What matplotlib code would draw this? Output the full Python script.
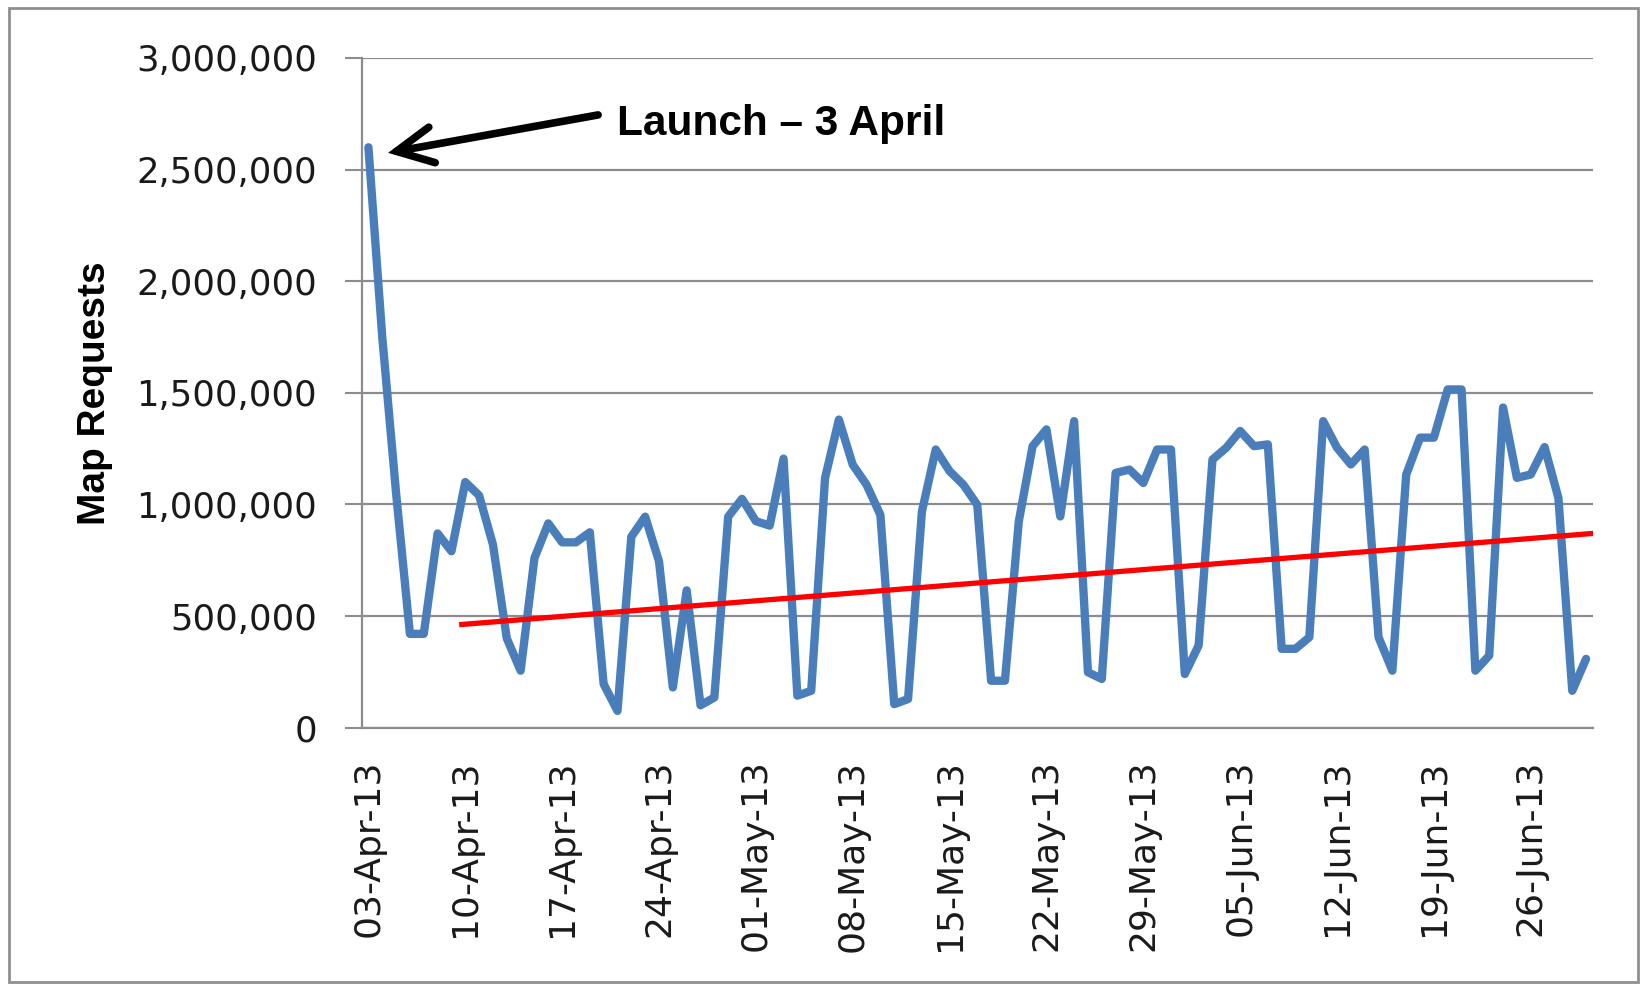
import matplotlib
matplotlib.use("Agg")
import matplotlib.pyplot as plt
from matplotlib.patches import Rectangle
from matplotlib.ticker import FuncFormatter
import numpy as np
import pandas as pd

# ---- data ----
start_date = "2013-04-03"
map_requests = [
    2600000, 1750000, 1050000, 420000, 420000, 870000, 790000,
    1100000, 1040000, 820000, 400000, 255000, 760000, 915000,
    830000, 830000, 875000, 195000, 75000, 855000, 945000,
    745000, 180000, 615000, 100000, 135000, 945000, 1025000,
    925000, 905000, 1205000, 143000, 165000, 1118000, 1380000,
    1178000, 1088000, 953000, 105000, 128000, 968000, 1246000,
    1149000, 1088000, 998000, 210000, 210000, 923000, 1261000,
    1336000, 946000, 1373000, 248000, 218000, 1141000, 1156000,
    1096000, 1246000, 1246000, 240000, 368000, 1201000, 1254000,
    1329000, 1261000, 1269000, 353000, 353000, 405000, 1373000,
    1254000, 1179000, 1246000, 405000, 255000, 1133000, 1299000,
    1299000, 1515000, 1515000, 255000, 323000, 1434000, 1119000,
    1134000, 1257000, 1029000, 165000, 308000,
]
tick_labels = ["03-Apr-13", "10-Apr-13", "17-Apr-13", "24-Apr-13", "01-May-13",
               "08-May-13", "15-May-13", "22-May-13", "29-May-13", "05-Jun-13",
               "12-Jun-13", "19-Jun-13", "26-Jun-13"]
trend_days = [6.75, 88.5]          # day index (0 = 03-Apr-13)
trend_values = [462000, 870000]
y_ticks = [0, 500000, 1000000, 1500000, 2000000, 2500000, 3000000]
annotation_text = "Launch \u2013 3 April"

dates = pd.date_range(start_date, periods=len(map_requests), freq="D")
x = np.arange(len(dates))
tick_pos = [int((pd.to_datetime(t, format="%d-%b-%y") - dates[0]).days) for t in tick_labels]

W, H = 1643, 985
fig = plt.figure(figsize=(W / 100, H / 100), dpi=100)
ax = fig.add_axes([361.5 / W, 1 - 727.6 / H, (1593 - 361.5) / W, (727.6 - 58) / H])

grid_col = "#8c8c8c"
ax.plot(x, map_requests, color="#4a7ebb", lw=6.0, solid_joinstyle="round",
        solid_capstyle="round", zorder=3)
ax.plot(trend_days, trend_values, color="#ff0000", lw=3.8, zorder=4)

ax.set_xlim(-0.5, len(x) - 0.5)
ax.set_ylim(y_ticks[0], y_ticks[-1])
ax.set_yticks(y_ticks)
ax.yaxis.set_major_formatter(FuncFormatter(lambda v, p: f"{int(v):,}"))
ax.set_xticks(tick_pos)
ax.set_xticklabels(tick_labels, rotation=90, fontsize=26, color="#1a1a1a",
                   family="DejaVu Sans")
for lab in ax.get_yticklabels():
    lab.set_fontsize(25.5)
    lab.set_color("#1a1a1a")
ax.tick_params(axis="x", length=0, pad=23)
ax.tick_params(axis="y", length=12, width=1.5, color=grid_col, pad=20)

ax.grid(axis="y", color=grid_col, lw=1.6)
ax.set_axisbelow(True)
for s in ["top", "right"]:
    ax.spines[s].set_visible(False)
for s in ["left", "bottom"]:
    ax.spines[s].set_color(grid_col)
    ax.spines[s].set_linewidth(1.6)

ax.set_ylabel("Map Requests", fontsize=28, fontweight="bold",
              family="Liberation Sans", color="black")
ax.yaxis.set_label_coords((113 - 361.5) / (1593 - 361.5), 0.5)

# annotation
ax.text(18.0, 2.655e6, annotation_text, fontsize=30.5, fontweight="bold",
        family="Liberation Sans", ha="left", va="baseline", color="black",
        zorder=6)
ax.annotate("", xy=(1.42, 2.575e6), xytext=(16.6, 2.745e6),
            arrowprops=dict(arrowstyle="->,head_length=1.3,head_width=0.65",
                            lw=5.5, color="black", shrinkA=0, shrinkB=0,
                            mutation_scale=20, joinstyle="miter"),
            zorder=6, annotation_clip=False)

# outer chart frame
fig.patches.append(Rectangle((9 / W, 1 - 982 / H), (1638 - 9) / W, (982 - 8) / H,
                             transform=fig.transFigure, fill=False,
                             edgecolor="#8f8f8f", lw=2.0))

fig.savefig("out.png", dpi=100, facecolor="white")
